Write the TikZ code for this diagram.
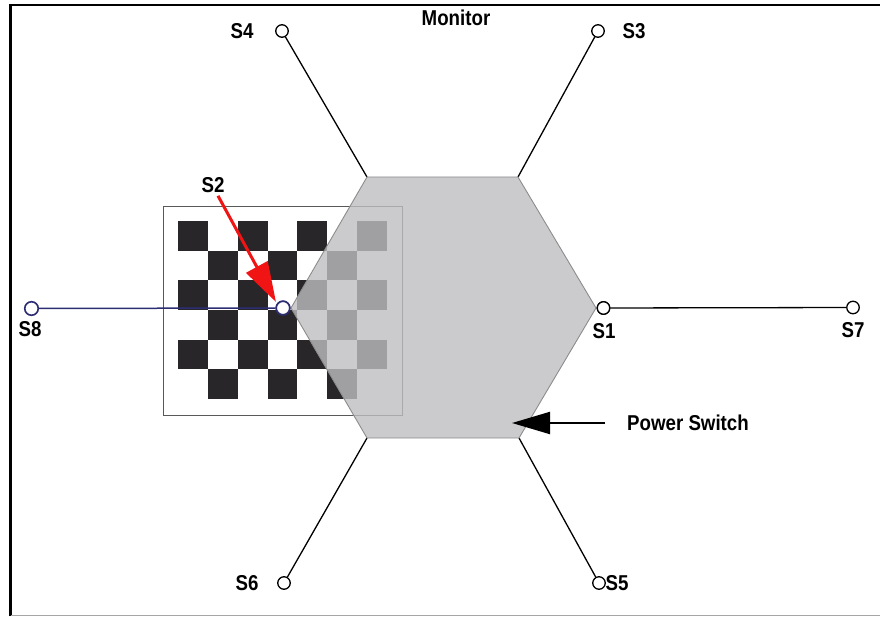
\documentclass[tikz,border=0pt]{standalone}
\usepackage{fontspec}
\setmainfont{Liberation Sans}[FakeStretch=0.87]
\usetikzlibrary{arrows.meta}
\definecolor{navy}{RGB}{45,45,115}
\definecolor{hexfill}{RGB}{190,190,193}
\definecolor{sqdark}{RGB}{40,38,40}
\definecolor{redarr}{RGB}{240,20,20}
\begin{document}
\begin{tikzpicture}[x=1pt,y=-1pt,
  lbl/.style={font=\fontsize{21.5}{24}\selectfont\bfseries, inner sep=0pt},
  term/.style={circle, draw=black, fill=white, line width=1.3pt, minimum size=12.5pt, inner sep=0pt},
  navyterm/.style={circle, draw=navy, fill=white, line width=1.6pt, minimum size=13.5pt, inner sep=0pt},
  wire/.style={line width=1.3pt, black}]
\useasboundingbox (0,0) rectangle (880,617);
% frame
\draw[line width=2.2pt, black] (10.5,616) -- (10.5,5) -- (880,5);
\draw[line width=1.3pt, black!35] (10.5,615.5) -- (880,615.5);
% checkerboard
\node[draw=black!65, line width=1.3pt, minimum width=239pt, minimum height=209pt, inner sep=0pt, anchor=north west] (board) at (163,206) {};
\foreach \i in {0,...,6}{
  \foreach \j in {0,...,5}{
    \pgfmathparse{int(mod(\i+\j,2))}
    \ifnum\pgfmathresult=0
      \fill[sqdark] (178.3+29.75*\i,221+29.65*\j) rectangle ++(29.7,29.7);
    \fi
  }
}
% hexagon vertices
\coordinate (vtl) at (367,177);
\coordinate (vtr) at (518,177);
\coordinate (vr) at (596,308);
\coordinate (vbr) at (519,438);
\coordinate (vbl) at (367,438);
\coordinate (vl) at (291,308);
% terminals
\node[term] (s4c) at (282,31) {};
\node[term] (s3c) at (598,31) {};
\node[term] (s6c) at (284,583) {};
\node[term] (s5c) at (599,583) {};
\node[term] (s1c) at (603.5,308) {};
\node[term] (s7c) at (853,307.5) {};
\node[navyterm] (s8c) at (31.5,308.5) {};
\node[navyterm] (s2c) at (283,308) {};
% wires
\draw[wire] (s4c) -- (vtl);
\draw[wire] (s3c) -- (vtr);
\draw[wire] (s6c) -- (vbl);
\draw[wire] (s5c) -- (vbr);
\draw[wire] (s1c) -- (s7c);
\draw[line width=1.5pt, navy] (s8c) -- (s2c);
% hexagon
\fill[hexfill, fill opacity=0.8] (vtl) -- (vtr) -- (vr) -- (vbr) -- (vbl) -- (vl) -- cycle;
\draw[black!45, line width=0.9pt] (vtl) -- (vtr) -- (vr) -- (vbr) -- (vbl) -- (vl) -- cycle;
% redraw terminals on top
\node[navyterm] at (s2c) {};
\node[term] at (s1c) {};
% labels
\node[lbl] (mon) at (456,18) {Monitor};
\node[lbl] (s4) at (242,31.5) {S4};
\node[lbl] (s3) at (634,31.5) {S3};
\node[lbl] (s2) at (213,185) {S2};
\node[lbl] (s8) at (30,329) {S8};
\node[lbl] (s1) at (604,331) {S1};
\node[lbl] (s7) at (853,330) {S7};
\node[lbl] (s6) at (247,583.5) {S6};
\node[lbl] (s5) at (617,583.5) {S5};
\node[lbl] (ps) at (688,423) {Power Switch};
% arrows
\coordinate (redtip) at (276,302);
\draw[redarr, line width=3pt, -{Triangle[length=40pt,width=24pt]}] (s2.south) ++(5,3) -- (redtip);
\coordinate (pstail) at (605,423);
\coordinate (pstip) at (512,423);
\draw[black, line width=2pt, -{Triangle[length=38pt,width=22pt]}] (pstail) -- (pstip);
\end{tikzpicture}
\end{document}
